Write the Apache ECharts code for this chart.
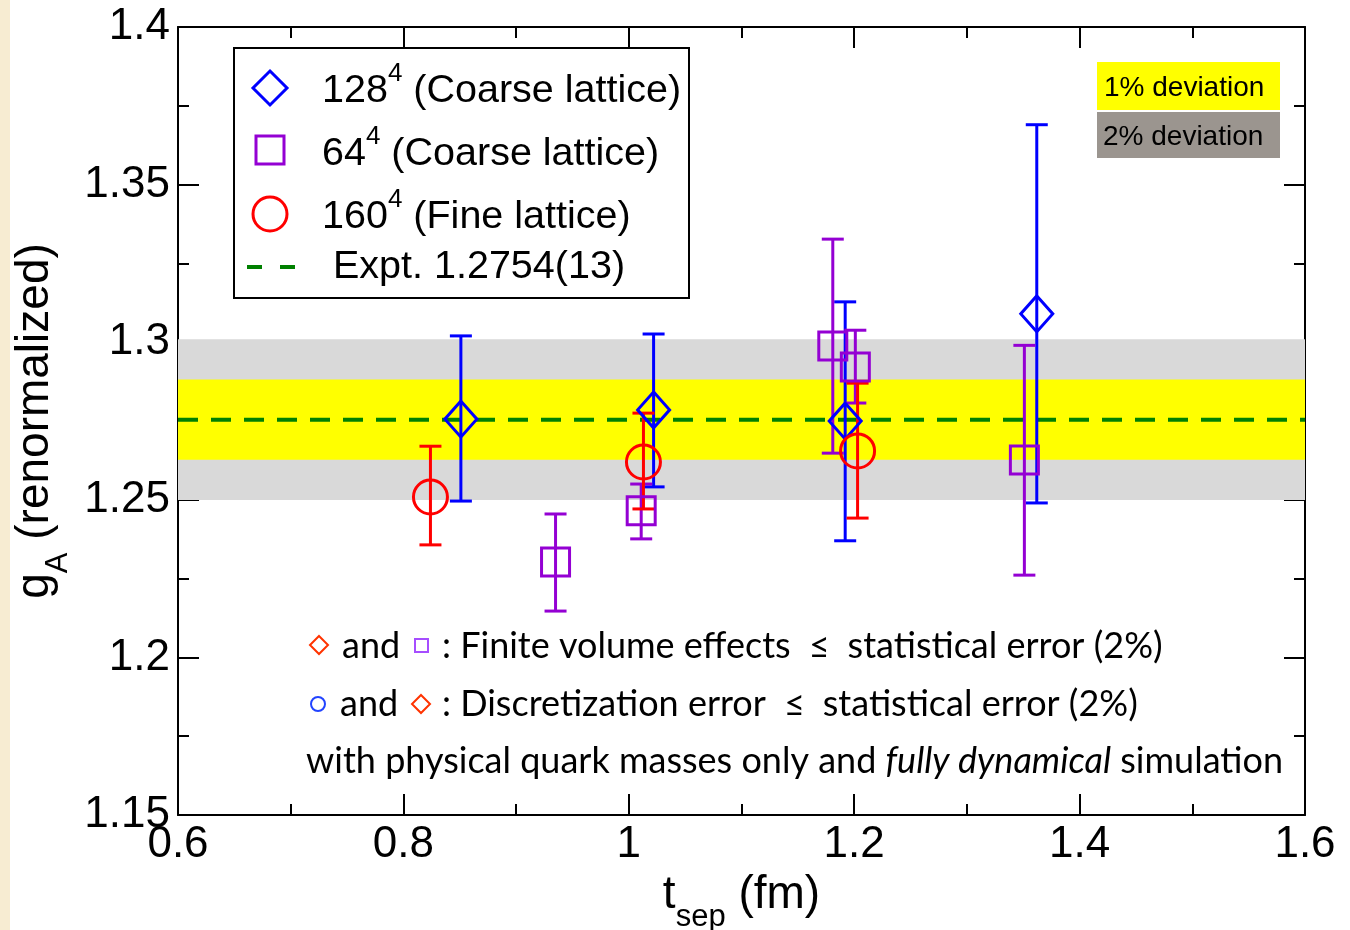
<!DOCTYPE html>
<html>
<head>
<meta charset="utf-8">
<title>gA renormalized vs tsep</title>
<script src="https://cdn.jsdelivr.net/npm/echarts@6/dist/echarts.min.js"></script>
<style>
  html, body { margin: 0; padding: 0; background: #fff; }
  #main { width: 1350px; height: 930px; }
</style>
</head>
<body>
<div id="main"></div>
<script>
// 128^4 coarse lattice (blue diamonds)
const tsep128 = [0.851, 1.022, 1.192, 1.362];
const gA128   = [1.2756, 1.2785, 1.2750, 1.3090];
const lo128   = [1.2496, 1.2541, 1.2370, 1.2490];
const hi128   = [1.3020, 1.3026, 1.3128, 1.3690];

// 64^4 coarse lattice (purple squares)
const tsep64 = [0.935, 1.011, 1.181, 1.201, 1.351];
const gA64   = [1.2303, 1.2465, 1.2988, 1.2921, 1.2626];
const lo64   = [1.2147, 1.2376, 1.2648, 1.2807, 1.2261];
const hi64   = [1.2455, 1.2550, 1.3327, 1.3038, 1.2990];

// 160^4 fine lattice (red circles)
const tsep160 = [0.824, 1.013, 1.203];
const gA160   = [1.2509, 1.2620, 1.2655];
const lo160   = [1.2357, 1.2471, 1.2442];
const hi160   = [1.2670, 1.2775, 1.2870];

// experiment and deviation bands
const expt = 1.2754;
const dev1 = [1.2627, 1.2882];
const dev2 = [1.2499, 1.3009];

const xTicks = [0.6, 1.6, 0.2];
const yTicks = [1.15, 1.4, 0.05];

const BLUE = '#0000ff', PURPLE = '#9400d3', RED = '#ff0000', GREEN = '#008000';
const SANS = 'Liberation Sans, Arial, Helvetica, sans-serif';
const GILL = 'Lato, Open Sans, sans-serif';

function pts(xs, ys) { return xs.map((x, i) => [x, ys[i]]); }

function errBars(name, xs, lo, hi, color) {
  return {
    type: 'custom', name: name + ' err', z: 3, silent: true,
    encode: { x: 0, y: [1, 2] },
    data: xs.map((x, i) => [x, lo[i], hi[i]]),
    renderItem: function (params, api) {
      let a = api.coord([api.value(0), api.value(2)]);
      let b = api.coord([api.value(0), api.value(1)]);
      let w = 11;
      let st = { stroke: color, lineWidth: 3 };
      return { type: 'group', children: [
        { type: 'line', shape: { x1: a[0], y1: a[1], x2: b[0], y2: b[1] }, style: st },
        { type: 'line', shape: { x1: a[0] - w, y1: a[1], x2: a[0] + w, y2: a[1] }, style: st },
        { type: 'line', shape: { x1: b[0] - w, y1: b[1], x2: b[0] + w, y2: b[1] }, style: st }
      ]};
    }
  };
}

function markers(name, data, symbol, size, color) {
  return {
    type: 'scatter', name: name, z: 4, silent: true,
    symbol: symbol, symbolSize: size, data: data,
    itemStyle: { color: 'rgba(0,0,0,0)', borderColor: color, borderWidth: 3, opacity: 1 }
  };
}

function axisBase(min, max, interval, pos, labels) {
  return {
    type: 'value', position: pos, min: min, max: max, interval: interval,
    splitLine: { show: false },
    axisLine: { show: true, onZero: false, lineStyle: { color: '#000', width: 2 } },
    axisTick: { show: true, inside: true, length: 21, lineStyle: { color: '#000', width: 2 } },
    minorTick: { show: true, splitNumber: 2, length: 11, lineStyle: { color: '#000', width: 2 } },
    axisLabel: { show: labels, color: '#000', fontFamily: SANS, fontSize: 44 }
  };
}

const supRich = {
  m: { fontFamily: SANS, fontSize: 39.5, color: '#000', padding: [11, 0, 0, 0], verticalAlign: 'bottom' },
  s: { fontFamily: SANS, fontSize: 26, color: '#000', verticalAlign: 'top' }
};

const subRich = { sub: { fontFamily: SANS, fontSize: 31, color: '#000', lineHeight: 31, padding: [30, 0, 0, 0], verticalAlign: 'top' } };

const noteStyle = { fontFamily: GILL, fontSize: 36, fill: '#000' };

let chart = echarts.init(document.getElementById('main'));
chart.setOption({
  backgroundColor: '#fff',
  animation: false,
  grid: { left: 178, right: 45, top: 27, bottom: 115, containLabel: false, outerBoundsMode: 'none' },
  xAxis: [
    Object.assign(axisBase(xTicks[0], xTicks[1], xTicks[2], 'bottom', true), {
      name: 't{sub|sep} (fm)', nameLocation: 'middle', nameGap: 49,
      nameTextStyle: { fontFamily: SANS, fontSize: 46, color: '#000', verticalAlign: 'top', lineHeight: 46, rich: subRich }
    }),
    axisBase(xTicks[0], xTicks[1], xTicks[2], 'top', false)
  ],
  yAxis: [
    Object.assign(axisBase(yTicks[0], yTicks[1], yTicks[2], 'left', true), {
      name: 'g{sub|A} (renormalized)', nameLocation: 'middle', nameGap: 112, nameRotate: 90,
      nameTextStyle: { fontFamily: SANS, fontSize: 46, color: '#000', verticalAlign: 'top', lineHeight: 46, rich: subRich }
    }),
    axisBase(yTicks[0], yTicks[1], yTicks[2], 'right', false)
  ],
  series: [
    {
      type: 'line', name: 'bands', z: 0, silent: true, symbol: 'none',
      data: pts([xTicks[0], xTicks[1]], [expt, expt]),
      lineStyle: { width: 0, opacity: 0 },
      markArea: {
        silent: true,
        data: [
          [{ yAxis: dev2[0], itemStyle: { color: '#d9d9d9', opacity: 1 } }, { yAxis: dev2[1] }],
          [{ yAxis: dev1[0], itemStyle: { color: '#ffff00', opacity: 1 } }, { yAxis: dev1[1] }]
        ]
      }
    },
    {
      type: 'line', name: 'expt', z: 2, silent: true, symbol: 'none',
      data: pts([xTicks[0], xTicks[1]], [expt, expt]),
      lineStyle: { color: GREEN, width: 4, type: [20, 13] }
    },
    errBars('128', tsep128, lo128, hi128, BLUE),
    errBars('64', tsep64, lo64, hi64, PURPLE),
    errBars('160', tsep160, lo160, hi160, RED),
    markers('128', pts(tsep128, gA128), 'diamond', [32, 36], BLUE),
    markers('64', pts(tsep64, gA64), 'rect', [28, 28], PURPLE),
    markers('160', pts(tsep160, gA160), 'circle', 34, RED)
  ],
  graphic: [
    // page edge strip
    { type: 'rect', shape: { x: 0, y: 0, width: 10, height: 930 }, style: { fill: '#f7ecd2' }, silent: true },
    // legend box
    { type: 'rect', z: 10, shape: { x: 234, y: 48, width: 455, height: 250 }, style: { fill: '#fff', stroke: '#000', lineWidth: 2 } },
    { type: 'polygon', z: 11, shape: { points: [[270, 71], [287, 88], [270, 105], [253, 88]] }, style: { fill: 'none', stroke: BLUE, lineWidth: 3 } },
    { type: 'rect', z: 11, shape: { x: 256, y: 136, width: 28, height: 28 }, style: { fill: 'none', stroke: PURPLE, lineWidth: 3 } },
    { type: 'circle', z: 11, shape: { cx: 270, cy: 214, r: 17 }, style: { fill: 'none', stroke: RED, lineWidth: 3 } },
    { type: 'line', z: 11, shape: { x1: 247, y1: 267, x2: 262, y2: 267 }, style: { stroke: GREEN, lineWidth: 4 } },
    { type: 'line', z: 11, shape: { x1: 280, y1: 267, x2: 295, y2: 267 }, style: { stroke: GREEN, lineWidth: 4 } },
    { type: 'text', z: 11, x: 322, y: 86, style: { text: '{m|128}{s|4}{m| (Coarse lattice)}', rich: supRich, verticalAlign: 'middle' } },
    { type: 'text', z: 11, x: 322, y: 149, style: { text: '{m|64}{s|4}{m| (Coarse lattice)}', rich: supRich, verticalAlign: 'middle' } },
    { type: 'text', z: 11, x: 322, y: 212, style: { text: '{m|160}{s|4}{m| (Fine lattice)}', rich: supRich, verticalAlign: 'middle' } },
    { type: 'text', z: 11, x: 333, y: 267, style: { text: 'Expt. 1.2754(13)', fontFamily: SANS, fontSize: 39.5, fill: '#000', verticalAlign: 'middle' } },
    // deviation key
    { type: 'rect', z: 10, shape: { x: 1097, y: 62, width: 183, height: 48 }, style: { fill: '#ffff00' } },
    { type: 'rect', z: 10, shape: { x: 1097, y: 112, width: 183, height: 46 }, style: { fill: '#9b958f' } },
    { type: 'text', z: 11, x: 1104, y: 88, style: { text: '1% deviation', fontFamily: SANS, fontSize: 28, fill: '#000', verticalAlign: 'middle' } },
    { type: 'text', z: 11, x: 1103, y: 137, style: { text: '2% deviation', fontFamily: SANS, fontSize: 28, fill: '#000', verticalAlign: 'middle' } },
    // notes
    { type: 'polygon', z: 11, shape: { points: [[319, 636], [328, 645], [319, 654], [310, 645]] }, style: { fill: 'none', stroke: '#ff3300', lineWidth: 2 } },
    { type: 'rect', z: 11, shape: { x: 415, y: 639, width: 13, height: 13 }, style: { fill: 'none', stroke: '#a64dff', lineWidth: 2 } },
    { type: 'text', z: 11, x: 342, y: 646, style: Object.assign({ text: 'and', verticalAlign: 'middle' }, noteStyle) },
    { type: 'text', z: 11, x: 442, y: 646, style: Object.assign({ text: ': Finite volume effects\u2002\u2264\u2002statistical error (2%)', verticalAlign: 'middle' }, noteStyle) },
    { type: 'circle', z: 11, shape: { cx: 318, cy: 704, r: 7 }, style: { fill: 'none', stroke: '#2244ff', lineWidth: 2 } },
    { type: 'polygon', z: 11, shape: { points: [[421, 695], [430, 704], [421, 713], [412, 704]] }, style: { fill: 'none', stroke: '#ff3300', lineWidth: 2 } },
    { type: 'text', z: 11, x: 340, y: 704, style: Object.assign({ text: 'and', verticalAlign: 'middle' }, noteStyle) },
    { type: 'text', z: 11, x: 442, y: 704, style: Object.assign({ text: ': Discretization error\u2002\u2264\u2002statistical error (2%)', verticalAlign: 'middle' }, noteStyle) },
    { type: 'text', z: 11, x: 306, y: 761, style: {
        text: '{n|with physical quark masses only and }{i|fully dynamical}{n| simulation}', verticalAlign: 'middle',
        rich: { n: noteStyle, i: Object.assign({ fontStyle: 'italic' }, noteStyle) }
    } }
  ]
});
</script>
</body>
</html>
